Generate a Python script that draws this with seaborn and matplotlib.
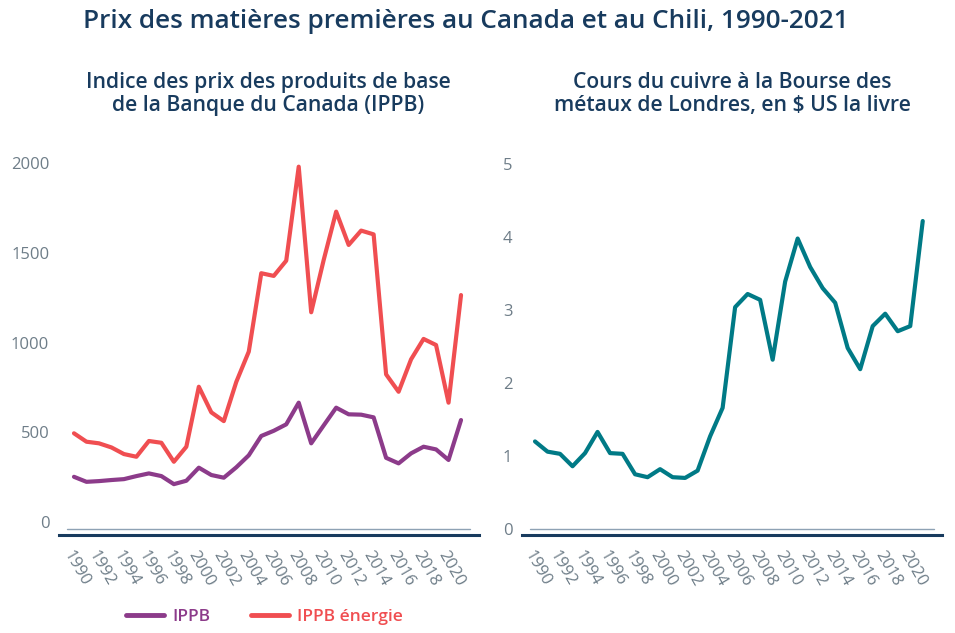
import matplotlib
matplotlib.use("Agg")
import matplotlib.pyplot as plt
import seaborn as sns
import pandas as pd

years = list(range(1990, 2022))
ippb = [250, 222, 226, 232, 237, 254, 269, 254, 209, 228, 301, 260, 245, 303, 370, 478,
        507, 543, 664, 437, 537, 636, 599, 597, 582, 356, 325, 381, 418, 403, 344, 567]
ippb_energie = [493, 446, 437, 414, 377, 362, 450, 440, 334, 418, 753, 610, 561, 780, 949, 1387,
                1372, 1457, 1982, 1169, 1461, 1731, 1545, 1625, 1604, 822, 725, 906, 1020, 986, 664, 1265]
cuivre = [1.20, 1.06, 1.03, 0.86, 1.04, 1.33, 1.04, 1.03, 0.75, 0.71, 0.82, 0.71, 0.70, 0.80,
          1.27, 1.66, 3.04, 3.22, 3.14, 2.32, 3.39, 3.98, 3.59, 3.30, 3.10, 2.48, 2.19, 2.78,
          2.95, 2.71, 2.78, 4.22]
xticks = list(range(1990, 2021, 2))
left_yticks = [0, 500, 1000, 1500, 2000]
right_yticks = [0, 1, 2, 3, 4, 5]

title = "Prix des matières premières au Canada et au Chili, 1990-2021"
sub_left = "Indice des prix des produits de base\nde la Banque du Canada (IPPB)"
sub_right = "Cours du cuivre à la Bourse des\nmétaux de Londres, en $ US la livre"
series_names = ["IPPB", "IPPB énergie"]

PURPLE = "#8C3B8A"
RED = "#F04E51"
TEAL = "#007A86"
NAVY = "#183B5E"
GREY = "#6E7D88"
THIN = "#8EA2B4"

sns.set_style("white")
plt.rcParams["font.family"] = ["Open Sans", "DejaVu Sans"]

fig = plt.figure(figsize=(9.55, 6.33), dpi=100)
W, H = 955, 633

def add_ax(x0, x1, ytop, ybot):
    return fig.add_axes([x0 / W, 1 - ybot / H, (x1 - x0) / W, (ybot - ytop) / H])

axL = add_ax(59, 479, 140, 535)
axR = add_ax(522, 942, 140, 535)

dfL = pd.DataFrame({
    "Année": years * 2,
    "Valeur": ippb + ippb_energie,
    "Série": [series_names[0]] * len(years) + [series_names[1]] * len(years),
})
sns.lineplot(data=dfL, x="Année", y="Valeur", hue="Série",
             palette={series_names[0]: PURPLE, series_names[1]: RED},
             linewidth=3, ax=axL, legend=False)

dfR = pd.DataFrame({"Année": years, "Valeur": cuivre})
sns.lineplot(data=dfR, x="Année", y="Valeur", color=TEAL, linewidth=3, ax=axR)

def style(ax, xlim, ylim, yticks, thin_y, thin_span):
    ax.set_xlim(*xlim)
    ax.set_ylim(*ylim)
    ax.set_xticks(xticks)
    ax.set_xticklabels([str(y) for y in xticks], rotation=-60, ha="left",
                       va="top", rotation_mode="anchor")
    ax.set_yticks(yticks)
    ax.set_yticklabels([str(t) for t in yticks])
    ax.set_xlabel("")
    ax.set_ylabel("")
    for s in ["top", "right", "left"]:
        ax.spines[s].set_visible(False)
    ax.spines["bottom"].set_color(NAVY)
    ax.spines["bottom"].set_linewidth(2.2)
    ax.tick_params(axis="both", length=0, colors=GREY, labelsize=12)
    ax.tick_params(axis="x", pad=9)
    ax.tick_params(axis="y", pad=7)
    ax.axhline(thin_y, xmin=thin_span[0], xmax=thin_span[1], color=THIN, linewidth=1, zorder=1)
    ax.grid(False)

style(axL, (1988.8, 2022.44), (-75, 2131), left_yticks, -42, (0.019, 0.979))
style(axR, (1988.96, 2022.54), (-0.082, 5.33), right_yticks, 0, (0.019, 0.981))

fig.text(466 / W, 1 - 22 / H, title, ha="center", va="center",
         fontsize=18.8, fontweight="semibold", color=NAVY)
fig.text(268 / W, 1 - 94 / H, sub_left, ha="center", va="center",
         fontsize=15.2, fontweight="semibold", color=NAVY, linespacing=1.12)
fig.text(732 / W, 1 - 94 / H, sub_right, ha="center", va="center",
         fontsize=15.2, fontweight="semibold", color=NAVY, linespacing=1.12)

handles = [plt.Line2D([], [], color=PURPLE, linewidth=3.5),
           plt.Line2D([], [], color=RED, linewidth=3.5)]
leg = fig.legend(handles, series_names, loc="center left", bbox_to_anchor=(110 / W, 1 - 617 / H),
                 ncol=2, frameon=False, handlelength=2.2, handletextpad=0.5, columnspacing=2.3,
                 prop={"weight": "semibold", "size": 12.5}, labelcolor="linecolor")

fig.savefig("out.png", dpi=100)
